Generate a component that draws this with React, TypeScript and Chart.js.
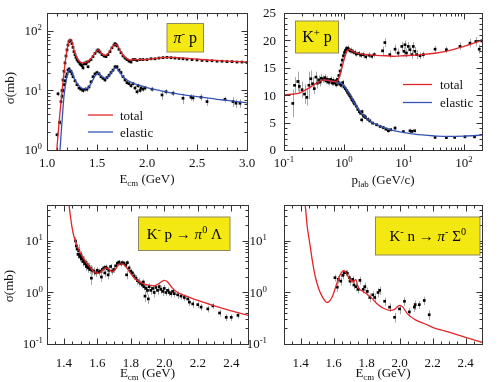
import React, { useEffect, useRef } from 'react';
import { Chart, registerables } from 'chart.js';
Chart.register(...registerables);

type Pt = [number, number, number];
type XY = [number, number];
type Seg = { t: string; s?: 'sup' | 'sub'; i?: boolean };

const FONT = '"Liberation Serif", "Times New Roman", "DejaVu Serif", serif';
const RED = '#e3262a';
const BLUE = '#3553b4';

// ---------------- Panel A: pi- p ----------------
const PIP_TOTAL_CURVE: XY[] = [
  [1.09, 0.7], [1.10, 1.1], [1.12, 2.8], [1.14, 6.5], [1.16, 14], [1.18, 28], [1.20, 48], [1.22, 67],
  [1.232, 72], [1.25, 63], [1.28, 42], [1.32, 31], [1.36, 29], [1.40, 30], [1.45, 36], [1.49, 45],
  [1.515, 48], [1.54, 43], [1.57, 39], [1.60, 40], [1.64, 50], [1.68, 60], [1.71, 55], [1.74, 44],
  [1.78, 36], [1.83, 32.5], [1.88, 33], [1.95, 33], [2.05, 34], [2.15, 35.5], [2.22, 36], [2.3, 35.5],
  [2.4, 34.5], [2.5, 33.5], [2.6, 32.5], [2.7, 31.8], [2.8, 31.2], [2.9, 30.6], [3.0, 30],
];
const PIP_ELASTIC_CURVE: XY[] = [
  [1.12, 0.6], [1.13, 1.0], [1.15, 3], [1.17, 8], [1.19, 14], [1.21, 20], [1.23, 22.5], [1.25, 20],
  [1.28, 15], [1.32, 12], [1.36, 10.7], [1.40, 10.8], [1.44, 13], [1.48, 17.5], [1.515, 19.5], [1.55, 17],
  [1.59, 16], [1.63, 18.5], [1.67, 23], [1.69, 24], [1.72, 21], [1.76, 17], [1.80, 15], [1.85, 13.5],
  [1.9, 12.5], [2.0, 11.2], [2.1, 10.2], [2.2, 9.4], [2.3, 8.8], [2.4, 8.3], [2.5, 7.9], [2.6, 7.5],
  [2.7, 7.1], [2.8, 6.8], [2.9, 6.5], [3.0, 6.2],
];
const PIP_TOTAL_PTS: Pt[] = [
  [1.10, 1.8, 0.2], [1.11, 8.8, 0.8], [1.125, 2.9, 0.3], [1.14, 6.5, 0.5], [1.15, 10, 0.8], [1.16, 15, 1],
  [1.17, 21, 1.5], [1.18, 29, 2], [1.19, 38, 2], [1.20, 48, 3], [1.21, 58, 3], [1.22, 66, 3], [1.23, 70, 3],
  [1.24, 68, 3], [1.25, 61, 3], [1.26, 53, 2], [1.27, 45, 2], [1.28, 40, 2], [1.29, 36, 2], [1.30, 33, 2],
  [1.31, 31, 2], [1.32, 30, 1.5], [1.33, 28, 1.5], [1.34, 27, 1.5], [1.35, 26, 1.5], [1.36, 24, 2],
  [1.37, 28, 1.5], [1.38, 29, 1.5], [1.39, 28, 1.5], [1.40, 30, 1.5], [1.41, 25, 1.5], [1.42, 31, 1.5],
  [1.44, 33, 1.5], [1.46, 37, 2], [1.48, 42, 2], [1.50, 46, 2], [1.51, 48, 2], [1.52, 46, 2], [1.53, 44, 2],
  [1.55, 40, 2], [1.57, 38, 2], [1.59, 37, 2], [1.61, 40, 2], [1.63, 45, 2], [1.65, 52, 2], [1.67, 58, 3],
  [1.68, 61, 3], [1.69, 59, 3], [1.70, 56, 3], [1.72, 49, 2], [1.74, 43, 2], [1.76, 38, 2], [1.78, 35, 2],
  [1.80, 33, 1.5], [1.82, 31, 1.5], [1.84, 30, 1.5], [1.86, 33, 1.5], [1.88, 33, 1.5], [1.90, 32, 1.5],
  [1.93, 33, 1.5], [1.96, 33, 1.5], [2.00, 33, 1.5], [2.04, 34, 1.5], [2.08, 34, 1.5], [2.12, 35, 1.5],
  [2.16, 35.5, 1.5], [2.20, 36, 1.5], [2.24, 35.5, 1.5], [2.28, 35, 1.5], [2.32, 34.5, 1.5], [2.36, 34, 1.5],
  [2.40, 33.5, 1], [2.45, 33, 1], [2.50, 32.5, 1], [2.55, 32, 1], [2.60, 31.5, 1], [2.65, 31.5, 1],
  [2.70, 31, 1], [2.75, 31, 1], [2.80, 30.5, 1], [2.85, 30.5, 1], [2.90, 30, 1], [2.95, 30, 1], [3.00, 29.5, 1],
];
const PIP_ELASTIC_PTS: Pt[] = [
  [1.15, 8, 0.8], [1.16, 10, 1], [1.17, 12.5, 1], [1.18, 14.5, 1], [1.19, 17, 1.5], [1.20, 19, 1.5],
  [1.21, 22, 1.5], [1.22, 23, 1.5], [1.23, 21, 1.5], [1.24, 21, 1.5], [1.25, 19, 1.5], [1.26, 17, 1.2],
  [1.28, 14.5, 1], [1.30, 12.5, 1], [1.32, 11, 1], [1.34, 10.5, 1], [1.36, 10, 1], [1.38, 10.5, 1],
  [1.40, 10.5, 1], [1.42, 11.5, 1], [1.44, 14, 1], [1.46, 17, 1.2], [1.48, 19, 1.5], [1.50, 20, 1.5],
  [1.52, 19, 1.5], [1.54, 17, 1.2], [1.56, 16, 1.2], [1.58, 15, 1.2], [1.60, 16.5, 1.2], [1.62, 18, 1.5],
  [1.64, 20, 1.5], [1.66, 22, 1.5], [1.68, 25, 2], [1.70, 25, 2], [1.72, 22, 1.5], [1.74, 20, 1.5],
  [1.76, 17, 1.2], [1.78, 15, 1.2], [1.80, 13.5, 1], [1.82, 13, 1], [1.84, 12, 1], [1.86, 13, 1],
  [1.88, 11, 1], [1.90, 9.5, 1], [1.91, 12, 1], [1.93, 10, 1], [1.94, 11, 1], [1.96, 10.5, 1],
  [1.98, 11, 1], [2.05, 10.5, 1], [2.15, 8.4, 1.5], [2.19, 9.5, 1], [2.26, 9.0, 1], [2.36, 7.4, 1.5],
  [2.44, 7.7, 1], [2.46, 7.5, 1], [2.54, 7.7, 1], [2.60, 6.5, 1], [2.78, 7.1, 0.8], [2.86, 6.5, 1.2],
  [2.89, 6.1, 1], [2.93, 6.1, 1],
];
const PIP_X_TICKS = [1.0, 1.5, 2.0, 2.5, 3.0];
const PIP_X_LABELS = ['1.0', '1.5', '2.0', '2.5', '3.0'];
const PIP_Y_TICKS = [1, 10, 100];
const PIP_Y_LABELS = ['10^0', '10^1', '10^2'];

// ---------------- Panel B: K+ p ----------------
const KP_TOTAL_CURVE: XY[] = [
  [0.1, 10.1], [0.18, 10.4], [0.25, 11.2], [0.35, 12.2], [0.45, 12.8], [0.55, 12.7], [0.65, 12.5],
  [0.75, 12.5], [0.85, 13.5], [0.95, 15.5], [1.05, 17.2], [1.15, 18.2], [1.25, 18.3], [1.4, 18.0],
  [1.6, 17.7], [2.0, 17.5], [3, 17.3], [5, 17.2], [7, 17.1], [10, 17.2], [15, 17.3], [20, 17.4],
  [35, 17.7], [50, 18.0], [100, 18.9], [200, 20.0],
];
const KP_ELASTIC_CURVE: XY[] = [
  [0.45, 12.8], [0.6, 12.6], [0.8, 12.3], [0.95, 12.0], [1.1, 11.0], [1.3, 9.8], [1.5, 8.5], [1.7, 7.6],
  [2.0, 6.6], [2.5, 5.6], [3, 5.0], [4, 4.4], [5, 4.0], [7, 3.5], [10, 3.2], [15, 2.9], [20, 2.75],
  [30, 2.6], [50, 2.5], [100, 2.55], [200, 2.7],
];
const KP_TOTAL_PTS: Pt[] = [
  [0.14, 8.5, 2.5], [0.15, 11.8, 1.5], [0.17, 12.5, 1.8], [0.18, 11.6, 1.2], [0.2, 11, 1.5], [0.22, 10.2, 1.8],
  [0.24, 9.6, 1.5], [0.26, 11.8, 2.5], [0.28, 13.0, 1.5], [0.3, 12.1, 1.2], [0.32, 11.2, 1], [0.34, 13.3, 1],
  [0.36, 12.2, 1], [0.38, 12.8, 0.8], [0.4, 12.4, 0.8], [0.42, 13.1, 0.8], [0.45, 12.9, 0.7], [0.48, 13.2, 0.6],
  [0.5, 12.6, 0.6], [0.53, 12.9, 0.6], [0.56, 12.4, 0.6], [0.6, 12.8, 0.6], [0.63, 12.3, 0.6], [0.66, 12.7, 0.6],
  [0.7, 12.2, 0.6], [0.74, 12.6, 0.6], [0.78, 12.9, 0.5], [0.82, 13.6, 0.5], [0.86, 14.4, 0.5], [0.9, 15.5, 0.5],
  [0.94, 16.4, 0.5], [0.98, 17.2, 0.5], [1.02, 17.8, 0.5], [1.06, 18.2, 0.5], [1.1, 18.5, 0.5], [1.15, 18.6, 0.5],
  [1.2, 18.3, 0.5], [1.26, 18.1, 0.5], [1.32, 18.2, 0.5], [1.4, 17.9, 0.5], [1.5, 17.8, 0.5], [1.6, 17.5, 0.5],
  [1.75, 17.6, 0.5], [1.9, 17.3, 0.5], [2.1, 17.4, 0.5], [2.3, 17.0, 0.5], [2.6, 17.3, 0.5], [2.9, 17.1, 0.5],
  [3.2, 17.4, 0.5], [4.4, 18.1, 0.8], [4.8, 19.6, 0.8], [5.8, 17.4, 0.7], [7.1, 18.4, 0.8], [8.0, 17.7, 0.8],
  [9.2, 18.9, 0.8], [10, 18.0, 0.8], [10.4, 19.2, 0.8], [11, 17.7, 0.8], [11.8, 18.9, 0.8], [12.6, 18.3, 0.8],
  [13.6, 17.4, 0.8], [14.3, 18.9, 0.8], [15.2, 18.0, 0.8], [16.3, 17.4, 0.8], [18.5, 17.2, 0.6], [21, 17.4, 0.6],
  [33, 18.4, 0.6], [51, 18.3, 0.6], [86, 18.9, 0.7], [126, 19.5, 0.8], [158, 19.8, 0.8], [180, 18.4, 0.8],
  [198, 19.9, 0.8],
];
const KP_ELASTIC_PTS: Pt[] = [
  [0.5, 12.8, 0.5], [0.55, 12.4, 0.5], [0.6, 12.9, 0.5], [0.65, 12.2, 0.5], [0.7, 12.5, 0.5], [0.75, 11.9, 0.5],
  [0.8, 12.4, 0.5], [0.85, 12.0, 0.5], [0.9, 11.8, 0.5], [0.95, 12.3, 0.5], [1.0, 11.5, 0.5], [1.05, 11.2, 0.5],
  [1.1, 10.9, 0.5], [1.15, 10.5, 0.5], [1.2, 10.2, 0.5], [1.25, 9.9, 0.5], [1.3, 9.6, 0.5], [1.35, 9.2, 0.5],
  [1.4, 9.0, 0.5], [1.45, 8.7, 0.5], [1.5, 8.4, 0.5], [1.6, 8.0, 0.5], [1.7, 7.4, 0.5], [1.8, 7.0, 0.5],
  [1.9, 6.7, 0.4], [1.97, 5.5, 0.5], [2.0, 7.0, 0.4], [2.1, 6.3, 0.4], [2.2, 6.1, 0.4], [2.3, 5.9, 0.4],
  [2.5, 5.6, 0.4], [2.7, 5.3, 0.4], [3.0, 4.9, 0.3], [3.5, 4.6, 0.3], [4.0, 4.3, 0.3], [4.5, 4.1, 0.3],
  [5.0, 3.8, 0.3], [5.5, 3.5, 0.3], [6.0, 3.7, 0.3], [7.1, 4.0, 0.4], [9.8, 3.35, 0.3], [12.6, 3.5, 0.4],
  [13.5, 3.4, 0.3], [15, 3.5, 0.3], [33, 2.3, 0.2], [51, 2.25, 0.2], [70, 2.3, 0.2], [104, 2.4, 0.2],
  [150, 2.4, 0.2],
];
const KP_X_TICKS = [0.1, 1, 10, 100];
const KP_X_LABELS = ['10^-1', '10^0', '10^1', '10^2'];
const KP_Y_TICKS = [0, 5, 10, 15, 20, 25];
const KP_Y_LABELS = ['0', '5', '10', '15', '20', '25'];

// ---------------- Panel C: K- p -> pi0 Lambda ----------------
const KPL_CURVE: XY[] = [
  [1.42, 90], [1.43, 55], [1.44, 30], [1.45, 18], [1.46, 12.5], [1.48, 8], [1.5, 5.8], [1.53, 4.0],
  [1.56, 3.0], [1.59, 2.4], [1.61, 2.35], [1.63, 2.7], [1.65, 3.0], [1.67, 2.8], [1.69, 2.55], [1.71, 2.9],
  [1.73, 3.5], [1.75, 3.6], [1.77, 3.2], [1.79, 2.6], [1.81, 2.1], [1.83, 1.8], [1.86, 1.55], [1.9, 1.4],
  [1.94, 1.35], [1.97, 1.5], [2.0, 1.72], [2.02, 1.6], [2.05, 1.2], [2.08, 1.0], [2.12, 0.88], [2.2, 0.7],
  [2.3, 0.55], [2.4, 0.44], [2.5, 0.36],
];
const KPL_PTS: Pt[] = [
  [1.47, 10, 2], [1.475, 8, 1.5], [1.48, 7, 1.5], [1.485, 5.5, 1], [1.49, 6.5, 2], [1.495, 5, 1], [1.5, 5.5, 1],
  [1.505, 4.5, 0.8], [1.51, 4.8, 0.8], [1.515, 4, 0.8], [1.52, 4.2, 0.8], [1.525, 3.6, 0.6], [1.53, 3.8, 0.6],
  [1.535, 3.2, 0.6], [1.54, 3.5, 0.6], [1.545, 3.0, 0.6], [1.55, 3.2, 0.6], [1.555, 2.8, 0.5], [1.56, 2.9, 0.5],
  [1.565, 1.9, 0.5], [1.57, 2.7, 0.5], [1.58, 2.6, 0.5], [1.59, 2.4, 0.4], [1.6, 2.7, 0.4], [1.61, 2.5, 0.4],
  [1.62, 2.6, 0.4], [1.625, 2.0, 0.4], [1.63, 2.8, 0.4], [1.64, 3.0, 0.4], [1.645, 2.4, 0.4], [1.65, 3.1, 0.4],
  [1.66, 2.9, 0.4], [1.665, 2.2, 0.4], [1.67, 2.7, 0.4], [1.68, 3.2, 0.4], [1.69, 2.6, 0.4], [1.7, 2.8, 0.4],
  [1.71, 3.3, 0.4], [1.72, 3.7, 0.4], [1.73, 3.9, 0.4], [1.74, 3.6, 0.4], [1.75, 3.8, 0.4], [1.76, 3.7, 0.4],
  [1.77, 3.4, 0.4], [1.775, 2.2, 0.4], [1.78, 3.8, 0.4], [1.79, 3.0, 0.4], [1.8, 2.6, 0.3], [1.81, 2.4, 0.3],
  [1.82, 2.1, 0.3], [1.83, 1.9, 0.3], [1.84, 1.7, 0.3], [1.85, 1.6, 0.3], [1.86, 1.5, 0.2], [1.87, 1.4, 0.2],
  [1.875, 1.6, 0.2], [1.88, 1.3, 0.2], [1.885, 0.85, 0.2], [1.89, 1.2, 0.2], [1.9, 1.1, 0.2], [1.905, 0.75, 0.15],
  [1.91, 1.3, 0.2], [1.92, 1.1, 0.2], [1.93, 1.2, 0.2], [1.94, 1.0, 0.2], [1.95, 1.25, 0.2], [1.96, 1.1, 0.2],
  [1.97, 1.3, 0.2], [1.98, 1.15, 0.2], [1.99, 1.05, 0.2], [2.0, 1.2, 0.2], [2.01, 1.0, 0.15], [2.02, 1.1, 0.15],
  [2.03, 1.0, 0.15], [2.04, 0.95, 0.15], [2.05, 1.05, 0.15], [2.06, 0.95, 0.15], [2.08, 0.9, 0.15],
  [2.1, 0.85, 0.12], [2.12, 0.8, 0.12], [2.14, 0.75, 0.1], [2.15, 0.65, 0.1], [2.17, 0.6, 0.1],
  [2.2, 0.58, 0.08], [2.22, 0.52, 0.08], [2.26, 0.48, 0.07], [2.29, 0.55, 0.07], [2.33, 0.4, 0.06],
  [2.37, 0.33, 0.05], [2.4, 0.33, 0.05], [2.44, 0.36, 0.05],
];

// ---------------- Panel D: K- n -> pi- Sigma0 ----------------
const KNS_CURVE: XY[] = [
  [1.42, 80], [1.43, 45], [1.44, 20], [1.45, 12], [1.46, 7.5], [1.47, 4.5], [1.49, 2.0], [1.51, 1.2],
  [1.53, 0.85], [1.55, 0.68], [1.56, 0.64], [1.58, 0.7], [1.6, 0.95], [1.62, 1.5], [1.64, 2.2], [1.66, 2.65],
  [1.68, 2.3], [1.7, 1.75], [1.72, 1.6], [1.735, 1.8], [1.75, 1.25], [1.78, 1.05], [1.82, 0.85], [1.86, 0.62],
  [1.9, 0.5], [1.94, 0.45], [1.97, 0.47], [2.0, 0.56], [2.02, 0.52], [2.05, 0.38], [2.1, 0.29], [2.15, 0.25],
  [2.2, 0.21], [2.3, 0.17], [2.4, 0.135], [2.5, 0.108],
];
const KNS_PTS: Pt[] = [
  [1.609, 1.94, 0.3], [1.623, 1.27, 0.25], [1.629, 1.8, 0.3], [1.644, 1.66, 0.3], [1.656, 2.15, 0.35],
  [1.664, 2.43, 0.35], [1.676, 2.43, 0.35], [1.684, 2.36, 0.35], [1.696, 1.94, 0.3], [1.70, 1.66, 0.3],
  [1.716, 1.8, 0.3], [1.724, 1.4, 0.25], [1.736, 1.3, 0.25], [1.75, 1.15, 0.2], [1.76, 1.72, 0.3],
  [1.78, 1.15, 0.2], [1.79, 1.3, 0.25], [1.805, 1.05, 0.2], [1.82, 0.8, 0.15], [1.838, 0.9, 0.15],
  [1.85, 0.8, 0.15], [1.87, 1.0, 0.2], [1.88, 1.1, 0.2], [1.91, 0.675, 0.12], [1.94, 0.52, 0.1],
  [1.97, 0.33, 0.07], [2.0, 0.48, 0.1], [2.03, 0.675, 0.13], [2.06, 0.42, 0.08], [2.09, 0.52, 0.1],
  [2.095, 0.58, 0.12], [2.12, 0.58, 0.1], [2.15, 0.7, 0.13], [2.18, 0.37, 0.08],
];
const BOT_X_TICKS = [1.4, 1.6, 1.8, 2.0, 2.2, 2.4];
const BOT_X_LABELS = ['1.4', '1.6', '1.8', '2.0', '2.2', '2.4'];
const BOT_Y_TICKS = [0.1, 1, 10];
const BOT_Y_LABELS = ['10^-1', '10^0', '10^1'];

// ---------------- texts ----------------
const E_CM_TITLE: Seg[] = [{ t: 'E' }, { t: 'cm', s: 'sub' }, { t: ' (GeV)' }];
const P_LAB_TITLE: Seg[] = [{ t: 'p' }, { t: 'lab', s: 'sub' }, { t: ' (GeV/c)' }];
const SIGMA_TITLE: Seg[] = [{ t: 'σ(mb)' }];
const BOX_A: Seg[] = [{ t: 'π', i: true }, { t: '-', s: 'sup' }, { t: ' p' }];
const BOX_B: Seg[] = [{ t: 'K' }, { t: '+', s: 'sup' }, { t: ' p' }];
const BOX_C: Seg[] = [{ t: 'K' }, { t: '-', s: 'sup' }, { t: ' p → ' }, { t: 'π', i: true }, { t: '0', s: 'sup' }, { t: ' Λ' }];
const BOX_D: Seg[] = [{ t: 'K' }, { t: '-', s: 'sup' }, { t: ' n → ' }, { t: 'π', i: true }, { t: '-', s: 'sup' }, { t: ' Σ' }, { t: '0', s: 'sup' }];
const LEGEND_NAMES = ['total', 'elastic'];

// ---------------- helpers ----------------
function logMinors(min: number, max: number) {
  const out: number[] = [];
  for (let e = Math.floor(Math.log10(min)); e <= Math.ceil(Math.log10(max)); e++) {
    for (let m = 2; m <= 9; m++) {
      const v = m * Math.pow(10, e);
      if (v > min && v < max) out.push(v);
    }
  }
  return out;
}
function linMinors(min: number, max: number, step: number) {
  const out: number[] = [];
  const n = Math.round((max - min) / step);
  for (let i = 0; i <= n; i++) out.push(+(min + i * step).toFixed(6));
  return out;
}
function labelSegs(s: string): Seg[] {
  const k = s.indexOf('^');
  if (k < 0) return [{ t: s }];
  return [{ t: s.slice(0, k) }, { t: s.slice(k + 1), s: 'sup' }];
}
function drawSegs(ctx: CanvasRenderingContext2D, segs: Seg[], x: number, y: number, size: number, align: string, color = '#111') {
  const parts = segs.map((sg) => {
    const sz = sg.s ? size * 0.68 : size;
    const font = `${sg.i ? 'italic ' : ''}${sz}px ${FONT}`;
    ctx.font = font;
    const w = ctx.measureText(sg.t).width;
    const dy = sg.s === 'sup' ? -size * 0.4 : sg.s === 'sub' ? size * 0.25 : 0;
    return { font, w, dy, t: sg.t };
  });
  const total = parts.reduce((a, p) => a + p.w, 0);
  let cx = align === 'left' ? x : align === 'center' ? x - total / 2 : x - total;
  ctx.fillStyle = color;
  ctx.textAlign = 'left';
  ctx.textBaseline = 'alphabetic';
  for (const p of parts) {
    ctx.font = p.font;
    ctx.fillText(p.t, cx, y + p.dy);
    cx += p.w;
  }
}

interface AxisSpec { type: 'linear' | 'logarithmic'; min: number; max: number; ticks: number[]; labels: string[]; minor: number[] }
interface Spec {
  area: { l: number; t: number; r: number; b: number };
  x: AxisSpec; y: AxisSpec;
  curves: { data: XY[]; color: string }[];
  pts: Pt[][];
  xLabelOff: number; xTitleOff: number; yLabelGap: number;
  xTitle: Seg[];
  yTitle?: { x: number; y: number };
  legend?: { x1: number; x2: number; tx: number; ys: number[] };
  box: { x1: number; y1: number; x2: number; y2: number; segs: Seg[]; size: number };
}

const SPECS: Spec[] = [
  {
    area: { l: 47, t: 13, r: 247, b: 150 },
    x: { type: 'linear', min: 1.0, max: 3.0, ticks: PIP_X_TICKS, labels: PIP_X_LABELS, minor: linMinors(1.0, 3.0, 0.1) },
    y: { type: 'logarithmic', min: 1, max: 200, ticks: PIP_Y_TICKS, labels: PIP_Y_LABELS, minor: logMinors(1, 200) },
    curves: [{ data: PIP_TOTAL_CURVE, color: RED }, { data: PIP_ELASTIC_CURVE, color: BLUE }],
    pts: [PIP_TOTAL_PTS, PIP_ELASTIC_PTS],
    xLabelOff: 17, xTitleOff: 33, yLabelGap: 5,
    xTitle: E_CM_TITLE,
    yTitle: { x: 10, y: 88 },
    legend: { x1: 88, x2: 113, tx: 120, ys: [115, 132] },
    box: { x1: 167, y1: 23.5, x2: 203.5, y2: 52, segs: BOX_A, size: 16 },
  },
  {
    area: { l: 284, t: 13, r: 482, b: 150 },
    x: { type: 'logarithmic', min: 0.1, max: 200, ticks: KP_X_TICKS, labels: KP_X_LABELS, minor: logMinors(0.1, 200) },
    y: { type: 'linear', min: 0, max: 25, ticks: KP_Y_TICKS, labels: KP_Y_LABELS, minor: linMinors(0, 25, 1) },
    curves: [{ data: KP_TOTAL_CURVE, color: RED }, { data: KP_ELASTIC_CURVE, color: BLUE }],
    pts: [KP_TOTAL_PTS, KP_ELASTIC_PTS],
    xLabelOff: 17, xTitleOff: 34, yLabelGap: 8,
    xTitle: P_LAB_TITLE,
    legend: { x1: 403, x2: 432, tx: 440, ys: [84.5, 102.5] },
    box: { x1: 295.5, y1: 21, x2: 338.5, y2: 53, segs: BOX_B, size: 16 },
  },
  {
    area: { l: 47, t: 205, r: 248, b: 344 },
    x: { type: 'linear', min: 1.3, max: 2.5, ticks: BOT_X_TICKS, labels: BOT_X_LABELS, minor: linMinors(1.3, 2.5, 0.05) },
    y: { type: 'logarithmic', min: 0.1, max: 50, ticks: BOT_Y_TICKS, labels: BOT_Y_LABELS, minor: logMinors(0.1, 50) },
    curves: [{ data: KPL_CURVE, color: RED }],
    pts: [KPL_PTS],
    xLabelOff: 23, xTitleOff: 33, yLabelGap: 4,
    xTitle: E_CM_TITLE,
    yTitle: { x: 9, y: 286 },
    box: { x1: 138.5, y1: 217, x2: 230, y2: 250.5, segs: BOX_C, size: 15 },
  },
  {
    area: { l: 284, t: 205, r: 482, b: 344 },
    x: { type: 'linear', min: 1.3, max: 2.5, ticks: BOT_X_TICKS, labels: BOT_X_LABELS, minor: linMinors(1.3, 2.5, 0.05) },
    y: { type: 'logarithmic', min: 0.1, max: 50, ticks: BOT_Y_TICKS, labels: BOT_Y_LABELS, minor: logMinors(0.1, 50) },
    curves: [{ data: KNS_CURVE, color: RED }],
    pts: [KNS_PTS],
    xLabelOff: 23, xTitleOff: 33, yLabelGap: 17,
    xTitle: E_CM_TITLE,
    box: { x1: 375.5, y1: 217, x2: 480, y2: 255, segs: BOX_D, size: 15 },
  },
];

function makeDecor(spec: Spec) {
  return {
    id: 'decor',
    beforeDatasetsDraw(chart: any) {
      const ctx = chart.ctx as CanvasRenderingContext2D;
      const ys = chart.scales.y;
      const a = chart.chartArea;
      ctx.save();
      ctx.beginPath();
      ctx.rect(a.left, a.top, a.right - a.left, a.bottom - a.top);
      ctx.clip();
      ctx.strokeStyle = '#a8a8a8';
      ctx.lineWidth = 1;
      chart.data.datasets.forEach((ds: any, i: number) => {
        if (!ds.errs) return;
        const meta = chart.getDatasetMeta(i);
        meta.data.forEach((el: any, j: number) => {
          const v = ds.data[j].y;
          const e = ds.errs[j];
          const lo = spec.y.type === 'logarithmic' ? Math.max(v - e, v * 0.05) : v - e;
          const y1 = ys.getPixelForValue(v + e);
          const y2 = ys.getPixelForValue(lo);
          const x = Math.round(el.x) + 0.5;
          ctx.beginPath();
          ctx.moveTo(x, y1);
          ctx.lineTo(x, y2);
          ctx.stroke();
        });
      });
      ctx.restore();
    },
    afterDatasetsDraw(chart: any) {
      const ctx = chart.ctx as CanvasRenderingContext2D;
      const xs = chart.scales.x, ys = chart.scales.y;
      const a = chart.chartArea;
      const l = Math.round(a.left) + 0.5, r = Math.round(a.right) + 0.5;
      const t = Math.round(a.top) + 0.5, b = Math.round(a.bottom) + 0.5;
      ctx.save();
      // frame
      ctx.strokeStyle = '#333';
      ctx.lineWidth = 1;
      ctx.strokeRect(l, t, r - l, b - t);
      // ticks
      const tick = (vals: number[], len: number, axis: 'x' | 'y') => {
        ctx.beginPath();
        for (const v of vals) {
          if (axis === 'x') {
            const p = Math.round(xs.getPixelForValue(v)) + 0.5;
            if (p < l - 0.1 || p > r + 0.1) continue;
            ctx.moveTo(p, b); ctx.lineTo(p, b - len);
            ctx.moveTo(p, t); ctx.lineTo(p, t + len);
          } else {
            const p = Math.round(ys.getPixelForValue(v)) + 0.5;
            if (p < t - 0.1 || p > b + 0.1) continue;
            ctx.moveTo(l, p); ctx.lineTo(l + len, p);
            ctx.moveTo(r, p); ctx.lineTo(r - len, p);
          }
        }
        ctx.stroke();
      };
      tick(spec.x.minor, 3, 'x');
      tick(spec.x.ticks, 6, 'x');
      tick(spec.y.minor, 3, 'y');
      tick(spec.y.ticks, 6, 'y');
      // tick labels
      const size = 13;
      spec.x.ticks.forEach((v, i) => {
        drawSegs(ctx, labelSegs(spec.x.labels[i]), xs.getPixelForValue(v), a.bottom + spec.xLabelOff, size, 'center');
      });
      spec.y.ticks.forEach((v, i) => {
        drawSegs(ctx, labelSegs(spec.y.labels[i]), a.left - spec.yLabelGap, ys.getPixelForValue(v) + size * 0.34, size, 'right');
      });
      // titles
      drawSegs(ctx, spec.xTitle, (a.left + a.right) / 2, a.bottom + spec.xTitleOff, size, 'center');
      if (spec.yTitle) {
        ctx.save();
        ctx.translate(spec.yTitle.x, spec.yTitle.y);
        ctx.rotate(-Math.PI / 2);
        drawSegs(ctx, SIGMA_TITLE, 0, size * 0.34, size, 'center');
        ctx.restore();
      }
      // legend
      if (spec.legend) {
        const L = spec.legend;
        spec.curves.forEach((c, i) => {
          ctx.strokeStyle = c.color;
          ctx.lineWidth = 1.3;
          ctx.beginPath();
          ctx.moveTo(L.x1, L.ys[i]);
          ctx.lineTo(L.x2, L.ys[i]);
          ctx.stroke();
          drawSegs(ctx, [{ t: LEGEND_NAMES[i] }], L.tx, L.ys[i] + 4.5, 13, 'left');
        });
      }
      // label box
      const B = spec.box;
      ctx.fillStyle = '#f4e813';
      ctx.fillRect(B.x1, B.y1, B.x2 - B.x1, B.y2 - B.y1);
      ctx.strokeStyle = '#8e8a5c';
      ctx.lineWidth = 1;
      ctx.strokeRect(B.x1, B.y1, B.x2 - B.x1, B.y2 - B.y1);
      drawSegs(ctx, B.segs, (B.x1 + B.x2) / 2, (B.y1 + B.y2) / 2 + B.size * 0.33, B.size, 'center', '#000');
      ctx.restore();
    },
  };
}

function buildConfig(spec: Spec): any {
  const datasets: any[] = [];
  spec.curves.forEach((c) => {
    datasets.push({
      type: 'line',
      data: c.data.map(([x, y]) => ({ x, y })),
      borderColor: c.color,
      borderWidth: 1.3,
      pointRadius: 0,
      fill: false,
      cubicInterpolationMode: 'monotone',
      order: 0,
    });
  });
  spec.pts.forEach((pts) => {
    datasets.push({
      type: 'scatter',
      data: pts.map(([x, y]) => ({ x, y })),
      errs: pts.map((p) => p[2]),
      pointStyle: 'rect',
      pointRadius: 1.9,
      backgroundColor: '#000',
      borderWidth: 0,
      order: 1,
    });
  });
  return {
    type: 'scatter',
    data: { datasets },
    options: {
      animation: false,
      responsive: false,
      events: [],
      layout: { padding: { left: spec.area.l, top: spec.area.t, right: 500 - spec.area.r, bottom: 382 - spec.area.b } },
      scales: {
        x: { type: spec.x.type, min: spec.x.min, max: spec.x.max, display: false },
        y: { type: spec.y.type, min: spec.y.min, max: spec.y.max, display: false },
      },
      plugins: { legend: { display: false }, tooltip: { enabled: false } },
    },
    plugins: [makeDecor(spec)],
  };
}

export default function App() {
  const refs = useRef<(HTMLCanvasElement | null)[]>([]);
  useEffect(() => {
    const charts = SPECS.map((s, i) => new Chart(refs.current[i] as HTMLCanvasElement, buildConfig(s)));
    return () => charts.forEach((c) => c.destroy());
  }, []);
  return (
    <div style={{ position: 'fixed', left: 0, top: 0, width: 500, height: 382, background: '#fff', overflow: 'hidden' }}>
      {SPECS.map((_, i) => (
        <canvas
          key={i}
          ref={(el) => { refs.current[i] = el; }}
          width={500}
          height={382}
          style={{ position: 'absolute', left: 0, top: 0, width: 500, height: 382 }}
        />
      ))}
    </div>
  );
}
